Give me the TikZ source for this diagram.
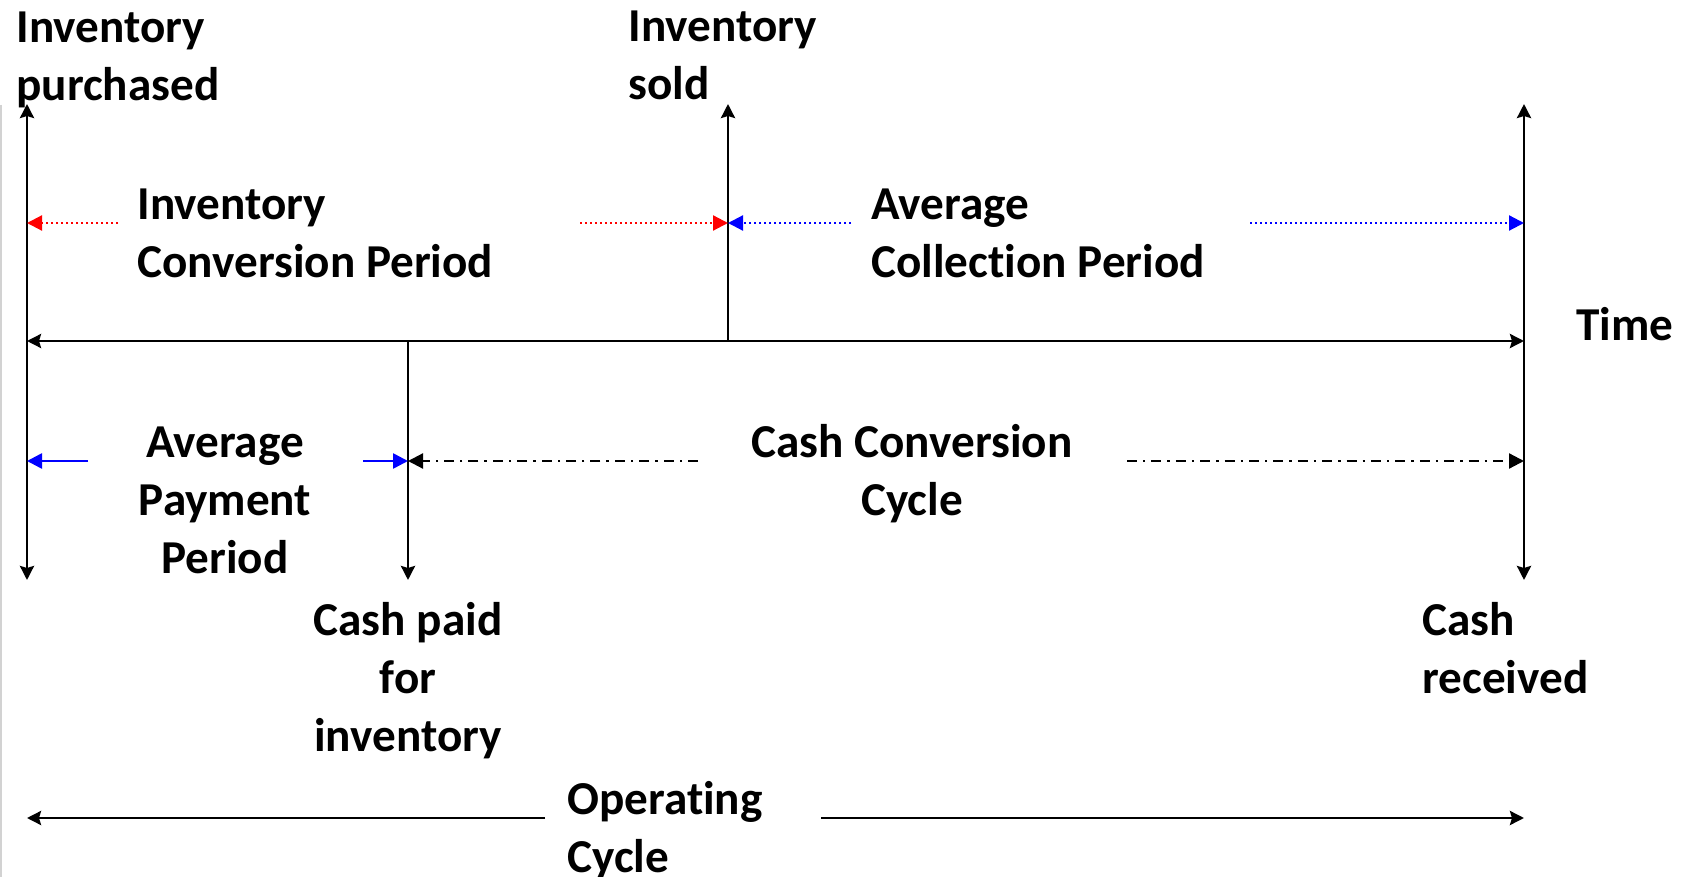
\documentclass[tikz,border=0pt]{standalone}
\usepackage{fontspec}
\setmainfont[Ligatures=NoCommon]{Carlito}
\usetikzlibrary{arrows.meta}
\tikzset{lbl/.style={font=\fontsize{23.6}{29}\selectfont\bfseries, inner sep=0pt, align=left}}
\tikzset{axis/.style={color=black, line width=1.4pt}}
\tikzset{tipk/.tip={Stealth[length=7pt, width=7pt, inset=1pt]}}
\tikzset{tipc/.tip={Triangle[length=7.5pt, width=7.5pt]}}
\tikzset{dots/.style={line width=1.1pt, dash pattern=on 1.2pt off 1.3pt}}
\tikzset{dashdot/.style={line width=1.1pt, dash pattern=on 5pt off 3pt on 1.2pt off 3pt}}

\begin{document}
\begin{tikzpicture}[x=0.5pt, y=-0.5pt]
  \useasboundingbox (0,0) rectangle (1683,877);
  \draw[gray!35, line width=0.7pt] (1,105) -- (1,877);

  % ends of the time lines
  \coordinate (ipTop) at (27,104);
  \coordinate (ipBot) at (27,580);
  \coordinate (isTop) at (728,104);
  \coordinate (isBase) at (728,341);
  \coordinate (crTop) at (1524,104);
  \coordinate (crBot) at (1524,580);
  \coordinate (cpBase) at (408,341);
  \coordinate (cpBot) at (408,580);
  \coordinate (tL) at (27,341);
  \coordinate (tR) at (1524,341);

  % labels
  \node[lbl, anchor=west] (invPurch) at (16,60) {Inventory\\purchased};
  \node[lbl, anchor=west] (invSold) at (628,55) {Inventory\\sold};
  \node[lbl, anchor=west] (icp) at (137,233) {Inventory\\Conversion Period};
  \node[lbl, anchor=west] (acp) at (871,233) {Average\\Collection Period};
  \node[lbl, anchor=west] (time) at (1576,324) {Time};
  \node[lbl, align=center] (app) at (225,500) {Average\\Payment\\Period};
  \node[lbl, align=center] (ccc) at (912,474) {Cash Conversion\\Cycle};
  \node[lbl, align=center] (cashPaid) at (408,681) {Cash paid\\for\\inventory};
  \node[lbl, anchor=west] (cashRec) at (1422,648) {Cash\\received};
  \node[lbl, anchor=west] (opc) at (567,831) {Operating\\Cycle};

  % verticals and the time axis
  \draw[axis, tipk-tipk] (ipTop) -- (ipBot);
  \draw[axis, tipk-tipk] (crTop) -- (crBot);
  \draw[axis, -tipk] (isBase) -- (isTop);
  \draw[axis, -tipk] (cpBase) -- (cpBot);
  \draw[axis, tipk-tipk] (tL) -- (tR);

  % spans above the axis
  \coordinate (icpL) at (118,223);
  \coordinate (icpR) at (580,223);
  \coordinate (acpL) at (851,223);
  \coordinate (acpR) at (1250,223);
  \draw[red, dots, -tipc] (icpL) -- (ipTop |- icpL);
  \draw[red, dots, -tipc] (icpR) -- (isTop |- icpR);
  \draw[blue, dots, -tipc] (acpL) -- (isTop |- acpL);
  \draw[blue, dots, -tipc] (acpR) -- (crTop |- acpR);

  % spans below the axis
  \coordinate (appL) at (88,461);
  \coordinate (appR) at (363,461);
  \coordinate (cccL) at (698,461);
  \coordinate (cccR) at (1127,461);
  \draw[blue, line width=1.3pt, -tipc] (appL) -- (ipTop |- appL);
  \draw[blue, line width=1.3pt, -tipc] (appR) -- (cpBase |- appR);
  \draw[dashdot, -tipc] (cccL) -- (cpBase |- cccL);
  \draw[dashdot, -tipc] (cccR) -- (crTop |- cccR);

  % operating cycle
  \coordinate (opcL) at (545,818);
  \coordinate (opcR) at (821,818);
  \draw[line width=1.4pt, -tipk] (opcL) -- (ipTop |- opcL);
  \draw[line width=1.4pt, -tipk] (opcR) -- (crTop |- opcR);
\end{tikzpicture}
\end{document}
